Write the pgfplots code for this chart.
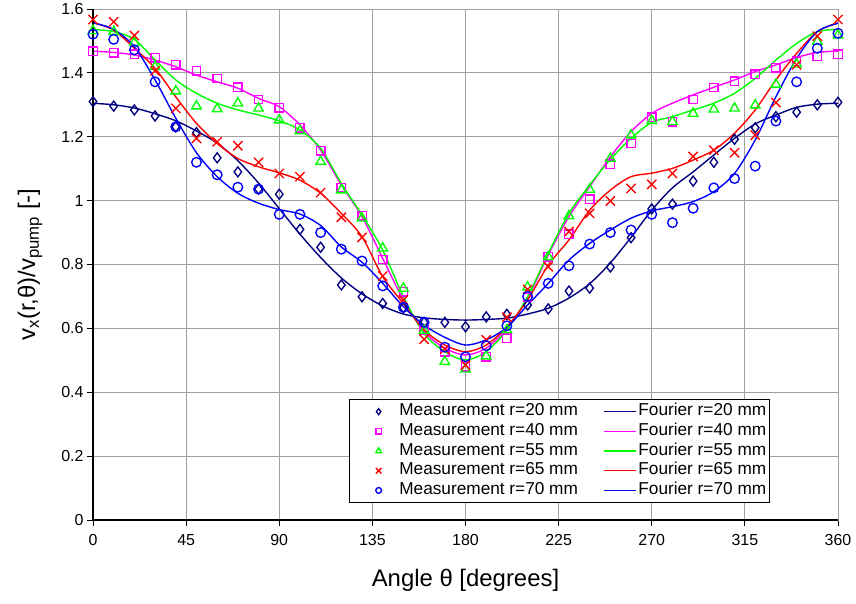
\documentclass[border=0pt]{standalone}
\usepackage{fontspec}
\setmainfont{Liberation Sans}
\usepackage{pgfplots}
\usepackage{pgfplotstable}
\pgfplotsset{compat=1.18}
\definecolor{cnavy}{RGB}{0,0,128}
\definecolor{cmag}{RGB}{255,0,255}
\definecolor{cgreen}{RGB}{0,255,0}
\definecolor{cred}{RGB}{255,0,0}
\definecolor{cblue}{RGB}{0,0,255}
\definecolor{cgrid}{RGB}{160,160,160}

\pgfplotstableread{
a m20 m40 m55 m65 m70
0 1.310 1.468 1.532 1.567 1.521
10 1.296 1.463 1.529 1.560 1.505
20 1.284 1.458 1.495 1.517 1.472
30 1.265 1.447 1.419 1.406 1.372
40 1.231 1.425 1.343 1.289 1.231
50 1.213 1.407 1.296 1.195 1.120
60 1.134 1.382 1.287 1.184 1.081
70 1.090 1.355 1.305 1.172 1.042
80 1.036 1.317 1.289 1.120 1.036
90 1.020 1.291 1.252 1.085 0.957
100 0.910 1.228 1.218 1.075 0.957
110 0.854 1.156 1.122 1.025 0.900
120 0.736 1.040 1.033 0.948 0.848
130 0.699 0.952 0.945 0.885 0.811
140 0.678 0.816 0.851 0.764 0.733
150 0.665 0.715 0.725 0.689 0.666
160 0.619 0.595 0.593 0.566 0.619
170 0.619 0.527 0.496 0.535 0.541
180 0.605 0.480 0.472 0.485 0.511
190 0.636 0.511 0.513 0.564 0.546
200 0.644 0.569 0.595 0.635 0.608
210 0.673 0.697 0.729 0.722 0.700
220 0.661 0.824 0.824 0.793 0.741
230 0.717 0.895 0.952 0.903 0.796
240 0.726 1.004 1.035 0.960 0.864
250 0.792 1.114 1.132 0.999 0.900
260 0.884 1.179 1.205 1.038 0.908
270 0.974 1.261 1.250 1.051 0.957
280 0.989 1.247 1.247 1.085 0.931
290 1.061 1.317 1.273 1.138 0.976
300 1.120 1.354 1.286 1.158 1.040
310 1.192 1.374 1.289 1.150 1.069
320 1.228 1.396 1.299 1.205 1.108
330 1.263 1.416 1.364 1.307 1.249
340 1.277 1.437 1.427 1.425 1.372
350 1.300 1.451 1.498 1.515 1.477
360 1.308 1.459 1.518 1.567 1.524
}\meas

\pgfplotstableread{
a f20 f40 f55 f65 f70
0 1.305 1.468 1.536 1.557 1.557
10 1.300 1.464 1.529 1.534 1.536
20 1.290 1.456 1.505 1.477 1.482
30 1.272 1.440 1.440 1.414 1.378
40 1.250 1.419 1.378 1.325 1.258
50 1.218 1.393 1.336 1.242 1.150
60 1.180 1.372 1.305 1.179 1.075
70 1.125 1.352 1.284 1.132 1.023
80 1.055 1.320 1.268 1.106 0.992
90 0.975 1.294 1.250 1.087 0.972
100 0.895 1.237 1.221 1.064 0.958
110 0.822 1.158 1.164 1.023 0.922
120 0.758 1.049 1.054 0.960 0.855
130 0.708 0.950 0.955 0.887 0.807
140 0.670 0.819 0.845 0.762 0.741
150 0.645 0.689 0.699 0.678 0.668
160 0.633 0.590 0.584 0.595 0.610
170 0.628 0.538 0.527 0.548 0.572
180 0.626 0.517 0.501 0.527 0.548
190 0.628 0.538 0.527 0.548 0.564
200 0.632 0.600 0.595 0.605 0.603
210 0.645 0.694 0.699 0.689 0.673
220 0.663 0.830 0.835 0.798 0.741
230 0.695 0.950 0.960 0.877 0.814
240 0.740 1.044 1.049 0.970 0.866
250 0.805 1.137 1.129 1.033 0.908
260 0.885 1.216 1.195 1.075 0.945
270 0.970 1.273 1.245 1.086 0.968
280 1.040 1.305 1.263 1.101 0.981
290 1.090 1.331 1.284 1.127 0.997
300 1.143 1.355 1.305 1.158 1.028
310 1.195 1.378 1.336 1.211 1.085
320 1.240 1.404 1.383 1.284 1.190
330 1.268 1.425 1.440 1.378 1.325
340 1.292 1.448 1.492 1.461 1.445
350 1.302 1.464 1.529 1.529 1.529
360 1.305 1.468 1.536 1.557 1.555
}\four

\pgfplotsset{
  meas/.style={only marks, line width=1.35bp,
    legend image code/.code={\path (0bp,0bp) (45bp,0bp);\draw[##1,/tikz/every mark/.append style={scale=0.6}] plot coordinates {(26.5bp,0bp)};}},
  four/.style={no markers, smooth, tension=0.5, line width=1.4bp,
    legend image code/.code={\draw[##1] (0bp,0bp) -- (32bp,0bp);}},
}

\begin{document}
\begin{tikzpicture}
\begin{axis}[
  scale only axis, width=745bp, height=511bp,
  xmin=0, xmax=360, ymin=0, ymax=1.6,
  xtick={0,45,90,135,180,225,270,315,360},
  xticklabels={0,45,90,135,180,225,270,315,360},
  ytick={0,0.2,0.4,0.6,0.8,1,1.2,1.4,1.6},
  yticklabels={0,0.2,0.4,0.6,0.8,1,1.2,1.4,1.6},
  tick label style={font=\fontsize{16}{19}\selectfont},
  xticklabel style={yshift=-5bp},
  grid=major, major grid style={color=cgrid, line width=0.9bp},
  axis line style={cgrid, line width=0.9bp},
  tick pos=left, tick align=outside, major tick length=6bp,
  tick style={black, line width=0.9bp},
  xlabel={Angle θ [degrees]},
  ylabel={v\textsubscript{x}(r,θ)/v\textsubscript{pump} [-]},
  label style={font=\fontsize{24}{28}\selectfont},
  xlabel style={at={(axis description cs:0.5,-0.119)}, anchor=center},
  ylabel style={at={(axis description cs:-0.0846,0.5)}, anchor=center, rotate=0},
  legend columns=2,
  legend cell align=left,
  legend style={at={(0.909,0.033)}, anchor=south east, draw=black, line width=0.9bp,
    font=\fontsize{17.3}{20}\selectfont, inner xsep=2bp, inner ysep=3bp,
    nodes={inner sep=1.5bp, text height=12bp, text depth=3.5bp},
    row sep=1.2bp,
    /tikz/every odd column/.append style={column sep=0bp},
    /tikz/every even column/.append style={column sep=24bp}},
  clip=false,
]
\addplot[meas, cnavy, mark=diamond, mark size=5bp] table[x=a,y=m20]{\meas};
\addlegendentry{Measurement r=20 mm}
\addplot[four, cnavy] table[x=a,y=f20]{\four};
\addlegendentry{Fourier r=20 mm}
\addplot[meas, cmag, mark=square, mark size=4.2bp] table[x=a,y=m40]{\meas};
\addlegendentry{Measurement r=40 mm}
\addplot[four, cmag] table[x=a,y=f40]{\four};
\addlegendentry{Fourier r=40 mm}
\addplot[meas, cgreen, mark=triangle, mark size=5.5bp] table[x=a,y=m55]{\meas};
\addlegendentry{Measurement r=55 mm}
\addplot[four, cgreen] table[x=a,y=f55]{\four};
\addlegendentry{Fourier r=55 mm}
\addplot[meas, cred, mark=x, mark size=6.5bp] table[x=a,y=m65]{\meas};
\addlegendentry{Measurement r=65 mm}
\addplot[four, cred] table[x=a,y=f65]{\four};
\addlegendentry{Fourier r=65 mm}
\addplot[meas, cblue, mark=o, mark size=4.8bp] table[x=a,y=m70]{\meas};
\addlegendentry{Measurement r=70 mm}
\addplot[four, cblue] table[x=a,y=f70]{\four};
\addlegendentry{Fourier r=70 mm}
\draw[black, line width=1.6bp] (rel axis cs:0,1) -- (rel axis cs:0,0) -- (rel axis cs:1,0);
\coordinate (O) at (rel axis cs:0,0);
\end{axis}
\pgfresetboundingbox
\path[use as bounding box] ([shift={(-93bp,-84bp)}]O) rectangle ([shift={(763bp,520bp)}]O);
\end{tikzpicture}
\end{document}
